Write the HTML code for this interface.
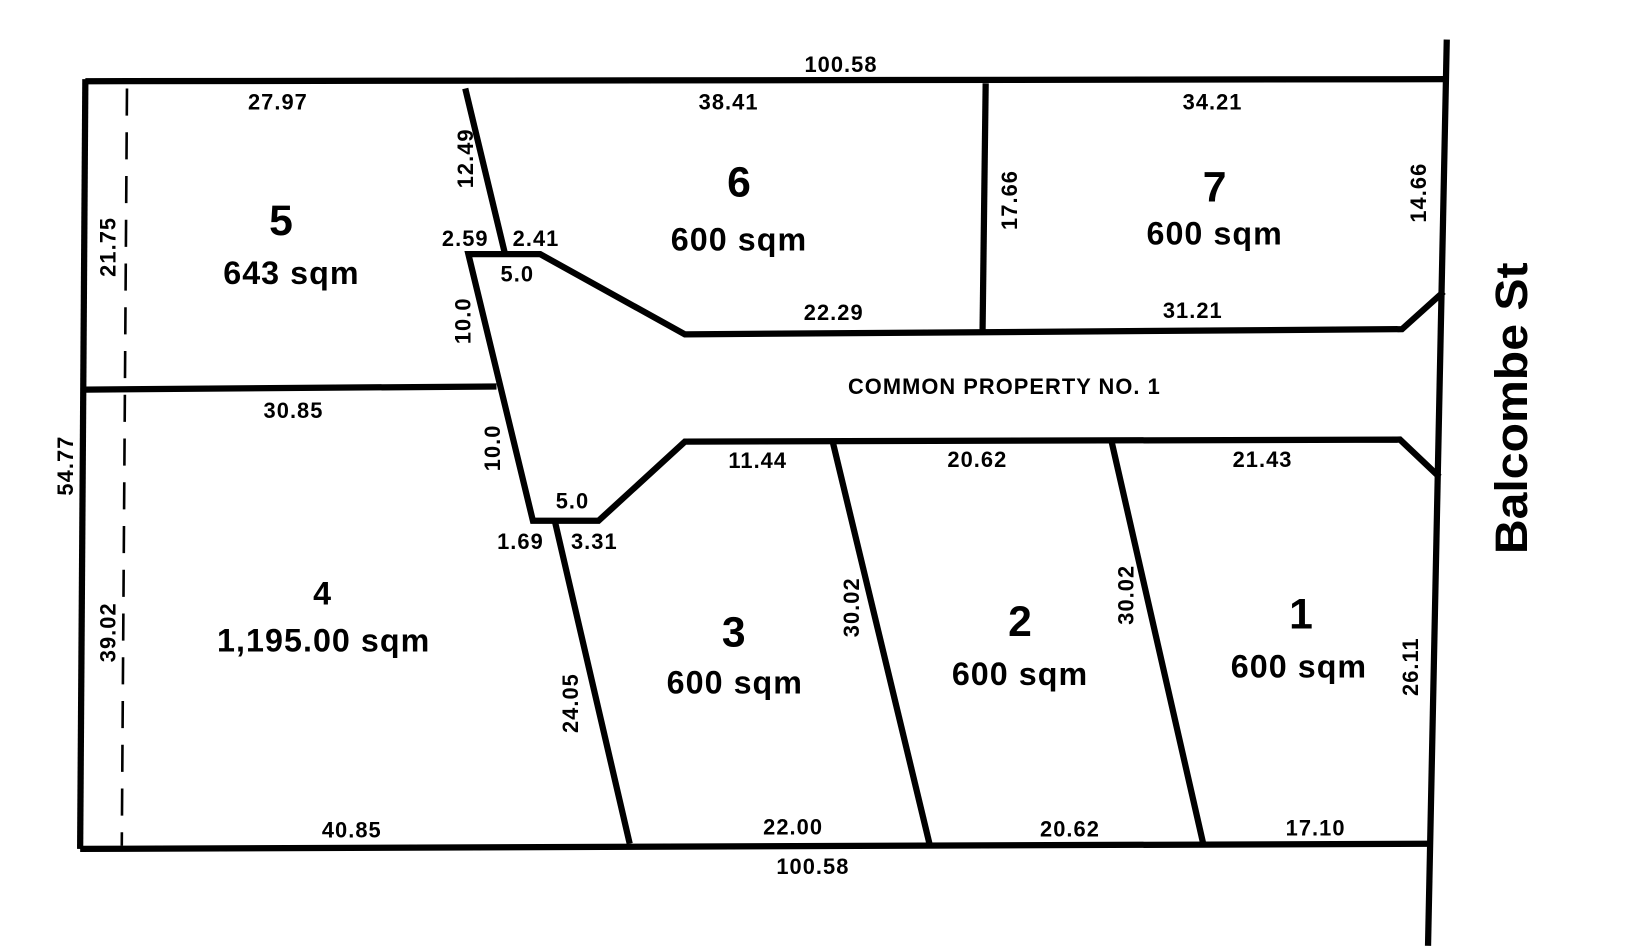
<!DOCTYPE html>
<html><head><meta charset="utf-8"><style>
html,body{margin:0;padding:0;background:#fff;}
svg{display:block}
text{font-family:"Liberation Sans",sans-serif;font-weight:bold;fill:#000;text-anchor:middle;dominant-baseline:central}
.s{font-size:21px;letter-spacing:1px}
.n{font-size:41px}
.a{font-size:31px;letter-spacing:1px}
</style></head><body>
<svg width="1631" height="951" viewBox="0 0 1567 913" preserveAspectRatio="none" xmlns="http://www.w3.org/2000/svg">
<g stroke="#000" stroke-width="6" fill="none" stroke-linejoin="miter">
<line x1="82" y1="78" x2="1390" y2="76"/>
<line x1="1390" y1="38" x2="1372" y2="908"/>
<line x1="82" y1="76" x2="77" y2="815"/>
<line x1="77" y1="815" x2="1372" y2="810"/>
<line x1="82" y1="374" x2="477" y2="371"/>
<line x1="447" y1="85" x2="485" y2="243"/>
<polyline points="1387,280 1347,316 658,321 519,244 450,244 512,500 575,500 658,424 1345,422 1383,458"/>
<line x1="533" y1="500" x2="605" y2="810"/>
<line x1="800" y1="424" x2="893" y2="810"/>
<line x1="1068" y1="424" x2="1156" y2="810"/>
<line x1="947" y1="80" x2="944" y2="318"/>
<line x1="122" y1="85" x2="117" y2="812" stroke-width="2.5" stroke-dasharray="26,16"/>
</g>
<text class="s" x="808" y="62">100.58</text>
<text class="s" x="267" y="98">27.97</text>
<text class="s" x="700" y="98">38.41</text>
<text class="s" x="1165" y="98">34.21</text>
<text class="s" transform="translate(447,152) rotate(-90)">12.49</text>
<text class="s" transform="translate(104,237) rotate(-90)">21.75</text>
<text class="n" x="270" y="212">5</text>
<text class="a" x="280" y="262">643 sqm</text>
<text class="s" x="447" y="229">2.59</text>
<text class="s" x="515" y="229">2.41</text>
<text class="s" x="497" y="263">5.0</text>
<text class="s" transform="translate(445,308) rotate(-90)">10.0</text>
<text class="n" x="710" y="175">6</text>
<text class="a" x="710" y="230">600 sqm</text>
<text class="s" transform="translate(970,192) rotate(-90)">17.66</text>
<text class="n" x="1167" y="180">7</text>
<text class="a" x="1167" y="224">600 sqm</text>
<text class="s" transform="translate(1363,185) rotate(-90)">14.66</text>
<text class="s" x="801" y="300">22.29</text>
<text class="s" x="1146" y="298">31.21</text>
<text class="s" x="965" y="371">COMMON PROPERTY NO. 1</text>
<text class="s" x="282" y="394">30.85</text>
<text class="s" transform="translate(473,430) rotate(-90)">10.0</text>
<text class="s" transform="translate(63,447) rotate(-90)">54.77</text>
<text class="s" x="550" y="481">5.0</text>
<text class="s" x="500" y="520">1.69</text>
<text class="s" x="571" y="520">3.31</text>
<text class="s" x="728" y="442">11.44</text>
<text class="s" x="939" y="441">20.62</text>
<text class="s" x="1213" y="441">21.43</text>
<text class="a" x="310" y="570">4</text>
<text class="a" x="311" y="615">1,195.00 sqm</text>
<text class="n" x="705" y="607">3</text>
<text class="a" x="706" y="655">600 sqm</text>
<text class="s" transform="translate(818,583) rotate(-90)">30.02</text>
<text class="n" x="980" y="597">2</text>
<text class="a" x="980" y="647">600 sqm</text>
<text class="s" transform="translate(1082,571) rotate(-90)">30.02</text>
<text class="n" x="1250" y="590">1</text>
<text class="a" x="1248" y="640">600 sqm</text>
<text class="s" transform="translate(1355,640) rotate(-90)">26.11</text>
<text class="s" transform="translate(104,607) rotate(-90)">39.02</text>
<text class="s" transform="translate(548,675) rotate(-90)">24.05</text>
<text class="s" x="338" y="797">40.85</text>
<text class="s" x="762" y="794">22.00</text>
<text class="s" x="1028" y="796">20.62</text>
<text class="s" x="1264" y="795">17.10</text>
<text class="s" x="781" y="832">100.58</text>
<text transform="translate(1452,392) rotate(-90)" style="font-size:44px" textLength="280" lengthAdjust="spacingAndGlyphs">Balcombe St</text>
</svg>
</body></html>
